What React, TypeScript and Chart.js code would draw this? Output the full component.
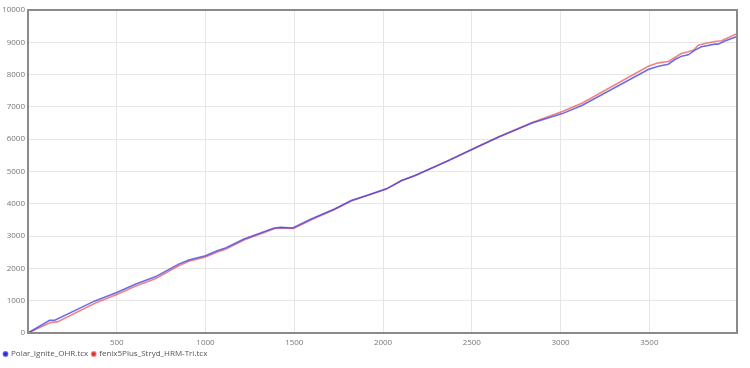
import React, { useEffect, useRef } from "react";
import { Chart, registerables } from "chart.js";

Chart.register(...registerables);

const xTickValues = [500, 1000, 1500, 2000, 2500, 3000, 3500];
const yTickStep = 1000;

const polarX = [0, 122, 151, 377, 500, 604, 717, 849, 906, 1000, 1066, 1113, 1217, 1387, 1425, 1491, 1595, 1727, 1821, 1916, 2019, 2104, 2181, 2370, 2510, 2652, 2840, 3010, 3123, 3494, 3551, 3607, 3644, 3682, 3719, 3757, 3794, 3869, 3888, 3925, 3990];
const polarY = [0, 394, 394, 994, 1252, 1512, 1739, 2133, 2258, 2391, 2547, 2630, 2910, 3252, 3270, 3252, 3531, 3841, 4099, 4276, 4462, 4720, 4876, 5342, 5705, 6065, 6500, 6792, 7050, 8160, 8261, 8323, 8468, 8571, 8612, 8758, 8861, 8944, 8944, 9037, 9171];

const fenixX = [0, 130, 165, 380, 500, 604, 717, 849, 906, 1000, 1066, 1113, 1217, 1392, 1430, 1496, 1600, 1727, 1821, 1916, 2019, 2104, 2181, 2370, 2510, 2652, 2840, 3010, 3123, 3494, 3551, 3607, 3644, 3680, 3719, 3750, 3776, 3813, 3869, 3906, 3990];
const fenixY = [0, 330, 345, 930, 1190, 1450, 1680, 2080, 2220, 2350, 2505, 2590, 2880, 3235, 3255, 3240, 3515, 3825, 4085, 4265, 4455, 4715, 4876, 5345, 5710, 6075, 6520, 6860, 7120, 8260, 8364, 8406, 8530, 8654, 8706, 8758, 8913, 8965, 9027, 9048, 9255];

const seriesNames = ["Polar_Ignite_OHR.tcx", "fenix5Plus_Stryd_HRM-Tri.tcx"];

const frame = {
  id: "frame",
  afterDatasetsDraw(chart: any) {
    const { ctx, chartArea } = chart;
    ctx.save();
    ctx.strokeStyle = "#8a8a8a";
    ctx.lineWidth = 2;
    ctx.strokeRect(chartArea.left, chartArea.top, chartArea.right - chartArea.left, chartArea.bottom - chartArea.top);
    ctx.restore();
  },
};

export default function App() {
  const ref = useRef<HTMLCanvasElement | null>(null);
  useEffect(() => {
    document.body.style.margin = "0";
    const toPts = (xs: number[], ys: number[]) => xs.map((x, i) => ({ x, y: ys[i] }));
    const chart = new Chart(ref.current as HTMLCanvasElement, {
      type: "line",
      data: {
        datasets: [
          {
            label: seriesNames[0],
            data: toPts(polarX, polarY),
            borderColor: "rgba(60,60,225,0.75)",
            backgroundColor: "rgba(40,40,220,1)",
            borderWidth: 1.6,
            pointRadius: 0,
            tension: 0,
          },
          {
            label: seriesNames[1],
            data: toPts(fenixX, fenixY),
            borderColor: "rgba(235,80,80,0.7)",
            backgroundColor: "rgba(230,40,40,1)",
            borderWidth: 1.6,
            pointRadius: 0,
            tension: 0,
          },
        ],
      },
      options: {
        animation: false,
        responsive: false,
        maintainAspectRatio: false,
        layout: { padding: { left: 0, right: 13, top: 10, bottom: 0 } },
        plugins: {
          tooltip: { enabled: false },
          legend: {
            position: "bottom",
            align: "start",
            labels: {
              usePointStyle: true,
              pointStyle: "circle",
              boxWidth: 3,
              boxHeight: 3,
              padding: 4,
              color: "#555",
              font: { family: "'Open Sans', sans-serif", size: 8 },
            },
          },
        },
        scales: {
          x: {
            type: "linear",
            min: 0,
            max: 3994,
            afterBuildTicks: (axis: any) => {
              axis.ticks = xTickValues.map((v) => ({ value: v }));
            },
            afterFit: (axis: any) => {
              axis.height = 13;
            },
            grid: { color: "#e6e6e6", drawTicks: false },
            border: { display: false },
            ticks: {
              padding: 5,
              color: "#777",
              maxRotation: 0,
              callback: (v: any) => String(v),
              font: { family: "'Open Sans', sans-serif", size: 8 },
            },
          },
          y: {
            min: 0,
            max: 10000,
            afterFit: (axis: any) => {
              axis.width = 28;
            },
            grid: { color: "#e6e6e6", drawTicks: false },
            border: { display: false },
            ticks: {
              stepSize: yTickStep,
              padding: 3,
              color: "#777",
              callback: (v: any) => String(v),
              font: { family: "'Open Sans', sans-serif", size: 8 },
            },
          },
        },
      },
      plugins: [frame],
    });
    return () => chart.destroy();
  }, []);
  return (
    <div style={{ position: "fixed", left: 0, top: 0, width: 750, height: 368 }}>
      <canvas ref={ref} width={750} height={368} style={{ width: 750, height: 368 }} />
    </div>
  );
}
